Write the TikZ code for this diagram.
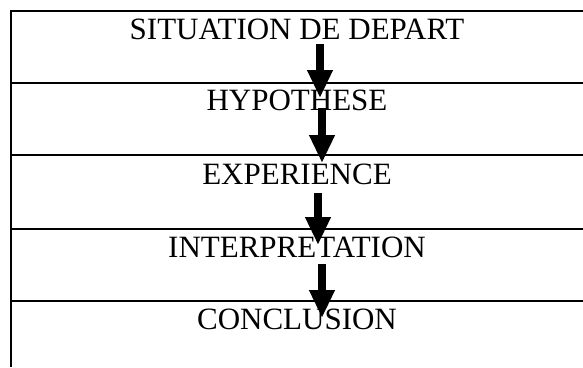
\documentclass[tikz,border=0pt]{standalone}
\usepackage{fontspec}
\setmainfont{Liberation Serif}
\usetikzlibrary{arrows.meta}
\tikzset{
  rule/.style={line width=2pt},
  stage/.style={anchor=base, inner sep=0pt, font=\fontsize{31}{36}\selectfont},
  bigarrow/.style={line width=8pt, -{Triangle[length=28pt,width=24pt]}}
}
\begin{document}
\begin{tikzpicture}[x=1pt,y=-1pt]
 \useasboundingbox (0,0) rectangle (583,367);

 \draw[rule] (583,11) -- (11,11) -- (11,367);
 \draw[rule] (11,82.7) -- (583,82.7)
 (11,155) -- (583,155)
 (11,229) -- (583,229)
 (11,300.7) -- (583,300.7);

 \node[stage] (sit) at (297,39) {SITUATION DE DEPART};
 \node[stage] (hyp) at (297,110) {HYPOTHESE};
 \node[stage] (exp) at (297,184) {EXPERIENCE};
 \node[stage] (interp) at (297,257) {INTERPRETATION};
 \node[stage] (concl) at (297,329) {CONCLUSION};

 \draw[bigarrow] ([xshift=23pt,yshift=-5pt]sit.base) -- ++(0,54);
 \draw[bigarrow] ([xshift=25pt,yshift=2pt]hyp.base) -- ++(0,55);
 \draw[bigarrow] ([xshift=21pt,yshift=-9pt]exp.base) -- ++(0,52);
 \draw[bigarrow] ([xshift=25pt,yshift=-7pt]interp.base) -- ++(0,54);

\end{tikzpicture}
\end{document}
